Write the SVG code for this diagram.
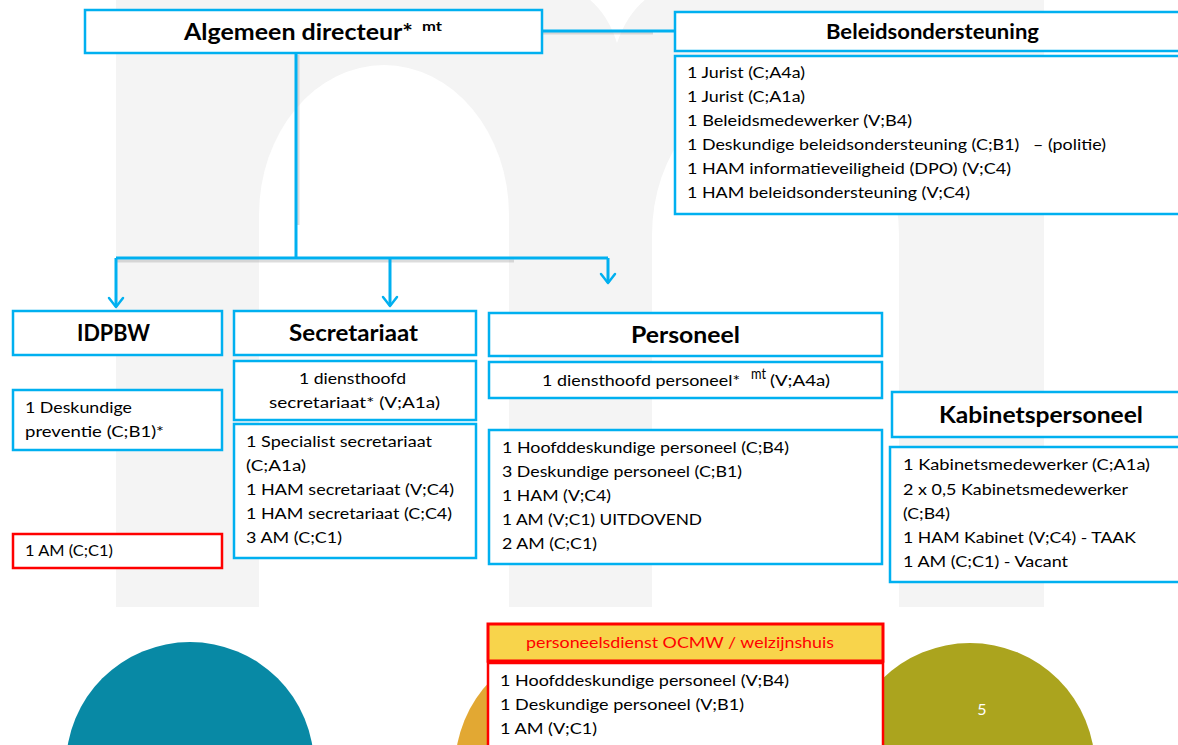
<svg xmlns="http://www.w3.org/2000/svg" width="1178" height="745" viewBox="0 0 1178 745">
<defs>
<style>
.box{fill:#fff;stroke:#00b0f0;stroke-width:2.5}
.red{fill:#fff;stroke:#ff0000;stroke-width:2.5}
.hdr{font-family:Lato,'Liberation Sans',sans-serif;font-weight:bold;fill:#000}
.txt{font-family:Lato,'Liberation Sans',sans-serif;font-size:16px;fill:#000}
.con{fill:none;stroke:#00b0f0;stroke-width:3}
.shd{fill:none;stroke:#9a9a9a;stroke-width:3;opacity:0.35}
</style>
<marker id="arr" viewBox="-12 -9 14 18" refX="0" refY="0" markerWidth="14" markerHeight="18" markerUnits="userSpaceOnUse" orient="auto">
<path d="M-9,-7 L0,0 L-9,7" fill="none" stroke="#00b0f0" stroke-width="2.5" stroke-linecap="round" stroke-linejoin="round"/>
</marker>
</defs>
<rect width="1178" height="745" fill="#fff"/>
<g id="watermark">
<path d="M116,607 L116,-10 L575,-10 Q605,5 617,43 Q630,5 660,-10 L1044,-10 L1044,607 Z" fill="#f4f4f4"/>
<path d="M259,608 L259,215 A125,150 0 0 1 509,215 L509,608 Z" fill="#fff"/>
<path d="M652,608 L652,235 A123.5,150 0 0 1 899,235 L899,608 Z" fill="#fff"/>
</g>
<g id="circles">
<circle cx="190" cy="766" r="124" fill="#0889a5"/>
<circle cx="580" cy="768" r="125" fill="#e2a833"/>
<circle cx="970" cy="768" r="125" fill="#aba41e"/>
<text x="982" y="715" font-family="Lato,'Liberation Sans',sans-serif" font-size="16" fill="#fff" text-anchor="middle">5</text>
</g>
<g id="connectors">
<path class="shd" d="M543,33 L653,33"/>
<path class="shd" d="M298,55 L298,225"/>
<path class="shd" d="M116,261 L514,261"/>
<path class="con" d="M542,31 L675,31"/>
<path class="con" d="M296,53 L296,258"/>
<path class="con" d="M116,258 L608,258"/>
<path class="con" d="M116,258 L116,307" marker-end="url(#arr)"/>
<path class="con" d="M390,258 L390,306" marker-end="url(#arr)"/>
<path class="con" d="M608,258 L608,283" marker-end="url(#arr)"/>
</g>
<g id="algemeen-directeur">
<rect class="box" x="85" y="10" width="457" height="43"/>
<text class="hdr" x="184" y="40" font-size="23" textLength="229" lengthAdjust="spacingAndGlyphs">Algemeen directeur*</text>
<text class="hdr" x="422" y="31" font-size="13" textLength="20" lengthAdjust="spacingAndGlyphs">mt</text>
</g>
<g id="beleidsondersteuning">
<rect class="box" x="675" y="12" width="520" height="39"/>
<text class="hdr" x="826" y="39" font-size="20" textLength="213" lengthAdjust="spacingAndGlyphs">Beleidsondersteuning</text>
</g>
<g id="beleidsondersteuning-staff">
<rect class="box" x="675" y="56" width="520" height="158"/>
<text class="txt" x="687" y="78" textLength="118" lengthAdjust="spacingAndGlyphs">1 Jurist (C;A4a)</text>
<text class="txt" x="687" y="102" textLength="118" lengthAdjust="spacingAndGlyphs">1 Jurist (C;A1a)</text>
<text class="txt" x="687" y="126" textLength="225" lengthAdjust="spacingAndGlyphs">1 Beleidsmedewerker (V;B4)</text>
<text class="txt" x="687" y="150" textLength="419" lengthAdjust="spacingAndGlyphs" xml:space="preserve">1 Deskundige beleidsondersteuning (C;B1)   – (politie)</text>
<text class="txt" x="687" y="174" textLength="324" lengthAdjust="spacingAndGlyphs">1 HAM informatieveiligheid (DPO) (V;C4)</text>
<text class="txt" x="687" y="198" textLength="283" lengthAdjust="spacingAndGlyphs">1 HAM beleidsondersteuning (V;C4)</text>
</g>
<g id="idpbw">
<rect class="box" x="13" y="311" width="209" height="44"/>
<text class="hdr" x="77" y="341" font-size="23" textLength="73" lengthAdjust="spacingAndGlyphs">IDPBW</text>
</g>
<g id="idpbw-preventie">
<rect class="box" x="13" y="390" width="209" height="60"/>
<text class="txt" x="25" y="413" textLength="107" lengthAdjust="spacingAndGlyphs">1 Deskundige</text>
<text class="txt" x="25" y="437" textLength="139" lengthAdjust="spacingAndGlyphs">preventie (C;B1)*</text>
</g>
<g id="idpbw-am">
<rect class="red" x="13" y="534" width="209" height="34"/>
<text class="txt" x="25" y="556" textLength="88" lengthAdjust="spacingAndGlyphs">1 AM (C;C1)</text>
</g>
<g id="secretariaat">
<rect class="box" x="234" y="311" width="242" height="44"/>
<text class="hdr" x="289" y="341" font-size="22" textLength="129" lengthAdjust="spacingAndGlyphs">Secretariaat</text>
</g>
<g id="secretariaat-hoofd">
<rect class="box" x="234" y="361" width="242" height="59"/>
<text class="txt" x="299" y="384" textLength="107" lengthAdjust="spacingAndGlyphs">1 diensthoofd</text>
<text class="txt" x="269" y="408" textLength="171" lengthAdjust="spacingAndGlyphs">secretariaat* (V;A1a)</text>
</g>
<g id="secretariaat-staff">
<rect class="box" x="234" y="424" width="242" height="134"/>
<text class="txt" x="246" y="447" textLength="186" lengthAdjust="spacingAndGlyphs">1 Specialist secretariaat</text>
<text class="txt" x="246" y="471" textLength="60" lengthAdjust="spacingAndGlyphs">(C;A1a)</text>
<text class="txt" x="246" y="495" textLength="208" lengthAdjust="spacingAndGlyphs">1 HAM secretariaat (V;C4)</text>
<text class="txt" x="246" y="519" textLength="206" lengthAdjust="spacingAndGlyphs">1 HAM secretariaat (C;C4)</text>
<text class="txt" x="246" y="543" textLength="96" lengthAdjust="spacingAndGlyphs">3 AM (C;C1)</text>
</g>
<g id="personeel">
<rect class="box" x="489" y="313" width="393" height="43"/>
<text class="hdr" x="631" y="343" font-size="22" textLength="109" lengthAdjust="spacingAndGlyphs">Personeel</text>
</g>
<g id="personeel-hoofd">
<rect class="box" x="489" y="362" width="393" height="36"/>
<text class="txt" x="542" y="386" textLength="198" lengthAdjust="spacingAndGlyphs">1 diensthoofd personeel*</text>
<text class="txt" x="751" y="379" font-size="11" textLength="15" lengthAdjust="spacingAndGlyphs">mt</text>
<text class="txt" x="770" y="386" textLength="60" lengthAdjust="spacingAndGlyphs">(V;A4a)</text>
</g>
<g id="personeel-staff">
<rect class="box" x="489" y="430" width="393" height="134"/>
<text class="txt" x="502" y="453" textLength="287" lengthAdjust="spacingAndGlyphs">1 Hoofddeskundige personeel (C;B4)</text>
<text class="txt" x="502" y="477" textLength="240" lengthAdjust="spacingAndGlyphs">3 Deskundige personeel (C;B1)</text>
<text class="txt" x="502" y="501" textLength="109" lengthAdjust="spacingAndGlyphs">1 HAM (V;C4)</text>
<text class="txt" x="502" y="525" textLength="200" lengthAdjust="spacingAndGlyphs">1 AM (V;C1) UITDOVEND</text>
<text class="txt" x="502" y="549" textLength="95" lengthAdjust="spacingAndGlyphs">2 AM (C;C1)</text>
</g>
<g id="kabinetspersoneel">
<rect class="box" x="892" y="392" width="300" height="45"/>
<text class="hdr" x="939" y="423" font-size="23" textLength="204" lengthAdjust="spacingAndGlyphs">Kabinetspersoneel</text>
</g>
<g id="kabinetspersoneel-staff">
<rect class="box" x="890" y="447" width="300" height="135"/>
<text class="txt" x="903" y="470" textLength="247" lengthAdjust="spacingAndGlyphs">1 Kabinetsmedewerker (C;A1a)</text>
<text class="txt" x="903" y="495" textLength="225" lengthAdjust="spacingAndGlyphs">2 x 0,5 Kabinetsmedewerker</text>
<text class="txt" x="903" y="519" textLength="47" lengthAdjust="spacingAndGlyphs">(C;B4)</text>
<text class="txt" x="903" y="543" textLength="233" lengthAdjust="spacingAndGlyphs">1 HAM Kabinet (V;C4) - TAAK</text>
<text class="txt" x="903" y="567" textLength="165" lengthAdjust="spacingAndGlyphs">1 AM (C;C1) - Vacant</text>
</g>
<g id="personeelsdienst-ocmw">
<rect x="488" y="624" width="395" height="37" fill="#f8d44b" stroke="#ff0000" stroke-width="3"/>
<text x="526" y="648" font-family="Lato,'Liberation Sans',sans-serif" font-size="16" fill="#ff0000" textLength="308" lengthAdjust="spacingAndGlyphs">personeelsdienst OCMW / welzijnshuis</text>
</g>
<g id="personeelsdienst-staff">
<rect class="red" x="488" y="663" width="395" height="95"/>
<text class="txt" x="500" y="686" textLength="289" lengthAdjust="spacingAndGlyphs">1 Hoofddeskundige personeel (V;B4)</text>
<text class="txt" x="500" y="710" textLength="244" lengthAdjust="spacingAndGlyphs">1 Deskundige personeel (V;B1)</text>
<text class="txt" x="500" y="734" textLength="97" lengthAdjust="spacingAndGlyphs">1 AM (V;C1)</text>
</g>
</svg>
